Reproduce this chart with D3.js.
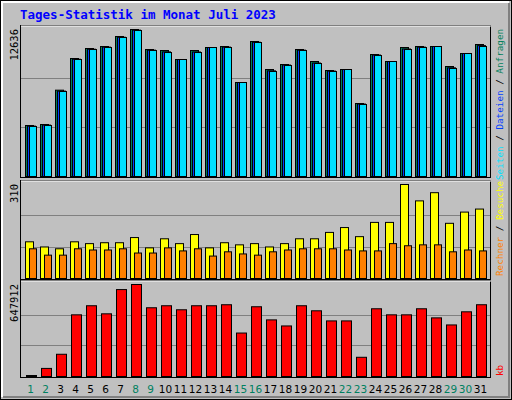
<!DOCTYPE html><html><head><script src="https://cdn.jsdelivr.net/npm/d3@7"></script>
<style>body{margin:0}</style></head><body><svg width="512" height="400"></svg><script>
const days=d3.range(1,32);
const weekend=[1,2,8,9,15,16,22,23,29,30];
const hits=[4383,4470,7421,10143,11002,11174,12034,12636,10916,10830,10057,10830,11088,11174,8080,11604,9197,9627,10916,9885,9111,9197,6275,10486,9885,11088,11174,11174,9455,10572,11346];
const files=[4330,4420,7340,10080,10940,11120,11970,12580,10860,10710,10057,10700,11088,11120,8080,11540,9080,9580,10860,9750,9060,9197,6230,10440,9885,10960,11120,11174,9340,10572,11250];
const pages=[4298,4383,7306,10057,10916,11088,11947,12549,10830,10658,10057,10658,11088,11088,8080,11518,9025,9541,10830,9713,9025,9197,6189,10400,9885,10916,11088,11174,9283,10572,11174];
const visits=[121,104,98,121,115,118,118,135,101,131,115,145,101,118,111,115,104,115,131,131,152,168,138,185,185,310,256,283,182,219,229];
const sites=[98,77,77,98,94,94,98,84,84,101,91,98,74,88,81,77,88,94,98,98,98,94,91,91,115,108,111,111,88,94,91];
const kb=[7000,57000,156600,434300,498300,441400,612200,647912,484100,498300,469900,498300,498300,505400,306100,491200,398700,356000,498300,462700,391500,391500,135300,477000,434300,434300,477000,412900,363100,455600,505400];
const svg=d3.select("svg");
svg.append("rect").attr("x",0.5).attr("y",0.5).attr("width",511).attr("height",399).attr("fill","#c0c0c0").attr("stroke","#000");
svg.append("path").attr("d","M2,397V2H509").attr("fill","none").attr("stroke","#fff").attr("stroke-width",2);
svg.append("path").attr("d","M3,397H509V3").attr("fill","none").attr("stroke","#808080").attr("stroke-width",2);
svg.append("text").attr("x",20).attr("y",19).text("Tages-Statistik im Monat Juli 2023").attr("fill","#0000ff").attr("font-family","DejaVu Sans Mono").attr("font-weight","bold").attr("font-size",12.5);
const x=d3.scaleBand().domain(days).range([20,485]);
const mono="DejaVu Sans Mono";
function panel(y0,y1,max,label){
  svg.append("rect").attr("x",20.5).attr("y",y0+0.5).attr("width",470).attr("height",y1-y0).attr("fill","#c0c0c0").attr("stroke","#000");
  svg.append("path").attr("d",`M21,${y0+1}H491`).attr("stroke","#fff");
  const y=d3.scaleLinear().domain([0,max]).range([y1-1,y0+4]);
  [1/3,2/3].forEach(f=>svg.append("line").attr("x1",21).attr("x2",490).attr("y1",Math.round(y(max*f))+0.5).attr("y2",Math.round(y(max*f))+0.5).attr("stroke","#808080"));
  svg.append("text").attr("transform",`translate(18,${y(max)}) rotate(-90)`).attr("text-anchor","end").attr("font-family",mono).attr("font-size",10.5).text(label);
  return y;
}
function bars(data,y,dx,w,fill){
  svg.append("g").selectAll("rect").data(data).join("rect")
   .attr("x",(d,i)=>x(days[i])+dx+0.5).attr("width",w).attr("y",d=>y(d)+0.5).attr("height",d=>Math.max(0,y(0)-y(d)))
   .attr("fill",fill).attr("stroke","#000");
}
const y1=panel(25,177,12636,"12636");
bars(hits,y1,5,8,"#00805c");bars(files,y1,7,8,"#0040ff");bars(pages,y1,9,7,"#00e0ff");
const y2=panel(180,279,310,"310");
bars(visits,y2,5,8,"#ffff00");bars(sites,y2,9,7,"#ff8000");
const y3=panel(280,377,647912,"647912");
bars(kb,y3,6,10,"#ff0000");
svg.append("g").selectAll("text").data(days).join("text").attr("x",d=>x(d)+x.bandwidth()/2+3).attr("y",393).attr("text-anchor","middle")
 .attr("font-family","DejaVu Sans").attr("font-size",10.5).attr("fill",d=>weekend.includes(d)?"#008060":"#000").text(d=>d);
function rlabel(yb,parts){
  const t=svg.append("text").attr("transform",`translate(503,${yb}) rotate(-90)`).attr("font-family",mono).attr("font-size",9.3);
  parts.forEach(p=>t.append("tspan").attr("fill",p[1]).text(p[0]));
}
rlabel(180,[["Seiten","#00e0ff"],[" / ","#000"],["Dateien","#0040ff"],[" / ","#000"],["Anfragen","#00805c"]]);
rlabel(276,[["Rechner","#ff8000"],[" / ","#000"],["Besuche","#ffff00"]]);
rlabel(376,[["kb","#ff0000"]]);
</script></body></html>
